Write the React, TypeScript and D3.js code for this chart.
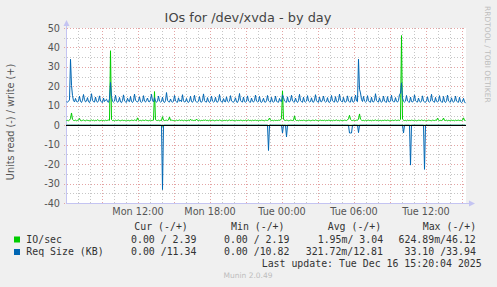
import React from 'react';
import * as d3 from 'd3';

const W = 497;
const H = 287;
const START = Date.UTC(2025, 11, 15, 6, 0, 0); // Mon 06:00
const END = Date.UTC(2025, 11, 16, 15, 20, 0); // Tue 15:20
const STEP_MS = 5 * 60 * 1000;

const title = 'IOs for /dev/xvda - by day';
const yLabel = 'Units read (-) / write (+)';
const yTicks = [-40, -30, -20, -10, 0, 10, 20, 30, 40, 50];
const yMinorTicks = [-35, -25, -15, -5, 5, 15, 25, 35, 45];

// IO/sec write (+), 5-minute samples
const ioWrite = [
  2.4, 2.5, 2.3, 2.6, 3.4, 6.3, 3.0, 2.5, 2.4, 2.6, 2.3, 2.5,
  2.6, 3.5, 2.4, 2.3, 2.5, 2.7, 2.4, 2.3, 2.6, 2.5, 2.4, 2.3,
  2.5, 2.7, 2.4, 2.6, 2.3, 2.5, 2.4, 2.8, 2.5, 2.3, 2.4, 2.6,
  2.4, 2.5, 2.3, 2.6, 2.4, 2.5, 2.7, 2.5, 38.3, 2.9, 2.4, 2.5,
  2.3, 2.6, 2.4, 2.5, 2.7, 2.4, 2.3, 2.5, 2.6, 2.4, 2.5, 2.3,
  2.6, 2.4, 2.5, 2.3, 2.4, 2.6, 2.5, 2.4, 2.7, 2.5, 2.3, 3.8,
  2.6, 2.4, 2.5, 2.3, 2.6, 2.5, 2.4, 2.7, 2.5, 2.4, 2.3, 2.5,
  2.6, 2.4, 2.5, 2.6, 17.3, 2.8, 2.5, 2.4, 2.6, 2.3, 2.5, 2.4,
  4.4, 2.6, 2.4, 2.5, 2.6, 2.4, 2.7, 4.2, 2.5, 2.6, 2.5, 2.4,
  2.5, 2.3, 2.6, 2.4, 2.5, 2.7, 2.4, 2.6, 2.5, 2.3, 2.6, 2.4,
  2.5, 2.4, 2.6, 2.3, 3.1, 2.5, 2.6, 2.4, 2.5, 2.4, 3.2, 2.5,
  2.4, 2.6, 2.3, 2.5, 2.4, 2.6, 2.5, 2.7, 2.4, 2.5, 2.3, 2.6,
  2.5, 2.4, 2.6, 2.5, 2.3, 2.4, 2.6, 2.5, 2.4, 2.7, 2.5, 2.3,
  2.6, 2.4, 2.5, 2.4, 2.6, 2.3, 2.5, 2.7, 2.4, 2.5, 2.6, 2.4,
  2.5, 2.3, 2.6, 2.4, 2.5, 2.4, 2.6, 2.5, 2.3, 2.5, 2.4, 2.6,
  2.4, 2.5, 2.7, 2.4, 2.5, 2.3, 2.6, 2.4, 2.5, 2.6, 2.4, 2.5,
  2.3, 2.5, 2.4, 2.6, 2.5, 2.4, 2.3, 2.6, 2.5, 2.4, 2.7, 3.7,
  2.6, 2.4, 2.5, 2.3, 2.6, 2.4, 2.5, 2.4, 2.6, 2.5, 2.7, 3.4,
  17.7, 3.2, 2.5, 2.4, 2.6, 2.5, 2.3, 2.4, 2.6, 2.5, 2.4, 2.5,
  4.8, 2.7, 2.4, 2.5, 2.3, 2.6, 2.4, 2.5, 2.4, 2.6, 2.5, 2.3,
  2.5, 2.4, 2.6, 2.5, 2.3, 2.4, 2.6, 2.5, 2.4, 2.7, 2.5, 2.4,
  2.3, 2.5, 2.6, 2.4, 2.5, 2.4, 2.6, 2.3, 2.5, 2.4, 2.6, 2.5,
  2.4, 2.5, 2.3, 2.6, 2.4, 2.5, 2.7, 2.4, 2.5, 2.3, 2.6, 2.4,
  2.5, 2.4, 2.6, 2.5, 2.4, 2.7, 3.4, 5.1, 3.0, 2.5, 2.4, 2.6,
  2.5, 2.4, 2.6, 2.5, 3.2, 5.8, 3.1, 2.6, 2.4, 2.5, 2.3, 2.6,
  2.4, 2.5, 2.6, 2.4, 2.5, 2.3, 2.6, 2.4, 2.5, 2.7, 2.4, 2.5,
  2.6, 2.4, 2.5, 2.3, 2.5, 2.4, 2.6, 2.5, 2.4, 2.6, 2.5, 2.3,
  2.5, 2.4, 2.6, 2.4, 2.5, 2.7, 2.4, 2.5, 2.6, 2.4, 3.0, 46.12,
  3.1, 2.6, 2.4, 2.5, 2.3, 2.6, 2.4, 2.5, 2.4, 2.6, 2.5, 2.4,
  2.6, 2.5, 2.3, 2.4, 2.6, 2.5, 2.4, 2.7, 2.5, 2.4, 2.6, 2.3,
  2.5, 2.4, 2.6, 2.5, 2.4, 2.3, 2.6, 2.5, 2.4, 2.6, 2.5, 3.6,
  2.6, 2.4, 2.5, 2.4, 2.6, 3.7, 2.5, 2.4, 2.6, 2.3, 2.5, 2.4,
  2.5, 2.6, 2.4, 2.5, 2.3, 2.6, 2.4, 2.5, 2.6, 2.4, 2.5, 2.4,
  2.6, 3.8, 2.5, 2.39,
];

// Req Size (KB) write (+), 5-minute samples
const reqWrite = [
  12.1, 11.8, 12.4, 13.0, 33.9, 20.5, 15.2, 12.6, 12.0, 13.8, 12.2, 11.9,
  12.5, 14.9, 12.3, 11.7, 12.8, 15.8, 13.1, 12.0, 12.4, 14.2, 12.1, 11.6,
  13.0, 16.2, 12.8, 12.1, 11.9, 14.5, 12.3, 11.8, 12.6, 15.1, 12.4, 12.0,
  11.7, 14.0, 12.2, 12.9, 13.4, 12.1, 11.8, 13.6, 22.0, 14.8, 12.3, 11.9,
  12.4, 15.4, 12.6, 11.8, 12.2, 14.3, 12.0, 11.6, 12.7, 15.6, 12.5, 12.0,
  11.8, 13.9, 12.4, 12.1, 14.8, 12.2, 11.7, 12.5, 16.0, 12.9, 12.2, 11.9,
  12.6, 14.6, 12.1, 11.8, 12.3, 15.2, 12.4, 11.9, 12.8, 14.0, 12.2, 12.0,
  13.1, 15.9, 12.6, 12.0, 14.2, 12.3, 11.8, 12.5, 15.0, 12.4, 11.9, 12.2,
  14.4, 12.1, 11.7, 12.6, 16.8, 12.8, 12.1, 11.9, 13.5, 12.2, 11.8, 12.4,
  15.3, 12.5, 12.0, 11.8, 14.1, 12.3, 12.9, 12.1, 15.7, 12.6, 11.9, 12.2,
  13.8, 12.0, 11.7, 12.5, 14.9, 12.2, 11.8, 12.7, 15.4, 12.4, 12.0, 11.9,
  12.3, 14.7, 12.1, 11.8, 12.6, 16.1, 12.7, 12.0, 11.9, 14.2, 12.3, 11.7,
  12.5, 15.0, 12.4, 11.9, 12.2, 14.4, 12.1, 11.8, 12.8, 15.8, 12.6, 12.0,
  11.8, 13.7, 12.2, 12.0, 14.6, 12.3, 11.9, 12.4, 15.2, 12.5, 12.1, 11.8,
  12.6, 14.1, 12.0, 11.7, 12.9, 16.3, 12.8, 12.1, 11.9, 14.5, 12.2, 11.8,
  12.4, 15.1, 12.5, 12.0, 11.8, 14.0, 12.3, 11.9, 12.7, 15.5, 12.4, 12.0,
  12.2, 14.8, 12.1, 11.7, 12.5, 13.9, 12.0, 11.8, 12.6, 15.3, 12.6, 12.1,
  11.9, 14.3, 12.2, 11.8, 12.4, 15.0, 12.3, 12.0, 11.8, 13.8, 12.4, 12.1,
  15.6, 14.2, 12.5, 12.0, 11.8, 14.6, 12.2, 11.9, 12.8, 15.4, 12.5, 12.0,
  11.9, 14.0, 12.3, 11.7, 12.6, 15.9, 12.7, 12.1, 11.8, 14.4, 12.2, 11.9,
  12.4, 15.2, 12.5, 12.0, 12.2, 14.1, 12.1, 11.8, 12.9, 15.7, 12.6, 12.0,
  11.8, 14.5, 12.3, 12.0, 13.0, 15.0, 12.4, 11.9, 12.2, 14.2, 12.0, 11.7,
  12.5, 15.3, 12.6, 12.1, 11.9, 14.7, 12.3, 11.8, 12.7, 16.0, 12.8, 12.2,
  12.0, 14.3, 12.1, 11.8, 12.5, 15.1, 12.4, 12.0, 11.9, 14.6, 12.2, 11.8,
  12.6, 15.5, 12.5, 12.1, 34.0, 18.5, 16.6, 13.2, 12.2, 14.8, 12.4, 11.9,
  12.3, 15.2, 12.6, 12.0, 11.8, 14.4, 12.2, 11.9, 12.8, 16.2, 12.7, 12.1,
  11.9, 14.1, 12.3, 11.8, 12.5, 15.0, 12.4, 12.0, 11.8, 14.7, 12.2, 11.9,
  12.6, 15.4, 12.5, 12.1, 12.0, 14.2, 12.3, 11.9, 12.7, 15.8, 16.5, 21.8,
  14.0, 12.3, 11.9, 12.4, 15.3, 12.5, 12.0, 11.8, 14.5, 12.2, 11.9, 12.6,
  15.6, 12.6, 12.1, 11.9, 14.0, 12.3, 11.8, 12.5, 15.1, 12.4, 12.0, 11.8,
  12.6, 14.6, 12.2, 11.9, 12.4, 15.9, 12.7, 12.1, 11.8, 14.3, 12.3, 11.9,
  12.5, 15.2, 12.4, 12.0, 11.8, 14.8, 12.2, 11.7, 12.6, 15.5, 12.5, 12.0,
  11.9, 14.1, 12.3, 11.8, 12.5, 15.0, 12.4, 12.0, 11.8, 14.4, 12.1, 11.6,
  12.3, 13.8, 12.0, 11.34,
];

// read (-) samples: [sample index, value]; all other samples are 0
const ioReadSamples: [number, number][] = [[96, 0.62], [202, 0.16]];
const reqReadSamples: [number, number][] = [
  [96, 33.1], [202, 13.0], [216, 4.0], [220, 6.0], [283, 4.0], [284, 4.0],
  [285, 4.0], [292, 3.8], [337, 4.0], [344, 20.5], [358, 22.7],
];

const seriesNames = ['IO/sec', 'Req Size (KB)'];
const seriesColors = ['#00CC00', '#0066B3'];
const colHeaders = ['Cur (-/+)', 'Min (-/+)', 'Avg (-/+)', 'Max (-/+)'];
const curVals = ['0.00 / 2.39', '0.00 /11.34'];
const minVals = ['0.00 / 2.19', '0.00 /10.82'];
const avgVals = ['1.95m/ 3.04', '321.72m/12.81'];
const maxVals = ['624.89m/46.12', '33.10 /33.94'];
const lastUpdate = 'Last update: Tue Dec 16 15:20:04 2025';
const footer = 'Munin 2.0.49';
const watermark = 'RRDTOOL / TOBI OETIKER';

const FONT = "'DejaVu Sans', sans-serif";
const MONO = "'DejaVu Sans Mono', monospace";
const MINOR = '#C6C6C6';
const MAJOR = '#E4A4A4';
const AXIS = '#C4C4F2';

function expand(samples: [number, number][], n: number): number[] {
  const arr = new Array(n).fill(0);
  samples.forEach(([i, v]) => { arr[i] = v; });
  return arr;
}

export default function App() {
  const L = 66, R = 466, T = 28, B = 203;
  const x = d3.scaleTime().domain([new Date(START), new Date(END)]).range([L, R]);
  const y = d3.scaleLinear().domain([-40, 50]).range([B, T]);
  const tAt = (i: number) => new Date(START + i * STEP_MS);

  const mkLine = (sign: number) =>
    d3.line<number>()
      .x((_, i) => x(tAt(i)) + 0.5)
      .y((d) => y(sign * d));

  const n = reqWrite.length;
  const ioRead = expand(ioReadSamples, n);
  const reqRead = expand(reqReadSamples, n);

  const hours = d3.utcHour.range(new Date(START), new Date(END + 1));
  const majorHours = hours.filter((h) => h.getUTCHours() % 3 === 0);
  const minorHours = hours.filter((h) => h.getUTCHours() % 3 !== 0);
  const labelHours = hours.filter((h) => h.getUTCHours() % 6 === 0 && +h > START);
  const fmt = d3.utcFormat('%a %H:%M');
  const px = (v: number) => Math.round(v) + 0.5;

  const legendCols = [
    { head: colHeaders[0], hx: 134.3, vals: curVals, vx: [131, 131] },
    { head: colHeaders[1], hx: 231, vals: minVals, vx: [224, 224] },
    { head: colHeaders[2], hx: 327.7, vals: avgVals, vx: [317.7, 305.7] },
    { head: colHeaders[3], hx: 422.7, vals: maxVals, vx: [398.5, 404.5] },
  ];
  const rowY = [242.5, 255];

  return (
    <svg width={W} height={H} style={{ position: 'fixed', left: 0, top: 0, display: 'block' }}>
      <rect x={0} y={0} width={W} height={H} fill="#F0F0F0" />
      <rect x={L} y={T} width={R - L} height={B - T} fill="#FFFFFF" />

      {/* minor grid */}
      <g shapeRendering="crispEdges">
        {yMinorTicks.map((v) => (
          <line key={'ym' + v} x1={L - 2} x2={R} y1={px(y(v))} y2={px(y(v))} stroke={MINOR} strokeDasharray="1,2" />
        ))}
        {minorHours.map((h) => (
          <line key={'xm' + +h} x1={px(x(h))} x2={px(x(h))} y1={T} y2={B + 2} stroke={MINOR} strokeDasharray="1,2" />
        ))}
        {yTicks.map((v) => (
          <line key={'yM' + v} x1={L - 2} x2={R} y1={px(y(v))} y2={px(y(v))} stroke={MAJOR} strokeDasharray="1,2" />
        ))}
        {majorHours.map((h) => (
          <line key={'xM' + +h} x1={px(x(h))} x2={px(x(h))} y1={T} y2={B + 2} stroke={MAJOR} strokeDasharray="1,2" />
        ))}
      </g>

      {/* axes */}
      <g shapeRendering="crispEdges">
        <line x1={L + 0.5} x2={L + 0.5} y1={22} y2={B + 1} stroke={AXIS} />
        <line x1={L} x2={R + 6} y1={B + 0.5} y2={B + 0.5} stroke={AXIS} />
      </g>
      <path d={`M${L - 2.5},${26} L${L + 0.5},${20} L${L + 3.5},${26} Z`} fill={AXIS} />
      <path d={`M${R + 3},${B - 2.5} L${R + 9},${B + 0.5} L${R + 3},${B + 3.5} Z`} fill={AXIS} />

      {/* data */}
      <g fill="none" strokeWidth={1} strokeLinejoin="round">
        <path d={mkLine(-1)(ioRead) || ''} stroke={seriesColors[0]} />
        <path d={mkLine(1)(ioWrite) || ''} stroke={seriesColors[0]} />
        <path d={mkLine(-1)(reqRead) || ''} stroke={seriesColors[1]} />
        <path d={mkLine(1)(reqWrite) || ''} stroke={seriesColors[1]} />
      </g>

      {/* zero line */}
      <line x1={L} x2={R} y1={px(y(0))} y2={px(y(0))} stroke="#000" shapeRendering="crispEdges" />

      {/* y tick labels */}
      <g fontFamily={FONT} fontSize={9.7} fill="#555" textAnchor="end">
        {yTicks.map((v) => (
          <text key={'yl' + v} x={60} y={y(v) + 3.5}>{v}</text>
        ))}
      </g>
      {/* x tick labels */}
      <g fontFamily={FONT} fontSize={9.7} fill="#555" textAnchor="middle">
        {labelHours.map((h) => (
          <text key={'xl' + +h} x={x(h)} y={215}>{fmt(h)}</text>
        ))}
      </g>

      {/* title */}
      <text x={248} y={22} textAnchor="middle" fontFamily={FONT} fontSize={12.9} fill="#444">{title}</text>
      {/* y label */}
      <text transform="translate(14,122) rotate(-90)" textAnchor="middle" fontFamily={FONT} fontSize={9.7} fill="#555">{yLabel}</text>
      {/* watermark */}
      <text transform="translate(485,6) rotate(90)" textAnchor="start" fontFamily={FONT} fontSize={7.5} fill="#BDBDBD">{watermark}</text>

      {/* legend */}
      <g fontFamily={MONO} fontSize={9.9} fill="#333" style={{ whiteSpace: 'pre' }}>
        {legendCols.map((c) => (
          <text key={c.head} x={c.hx} y={230} xmlSpace="preserve">{c.head}</text>
        ))}
        {seriesNames.map((s, r) => (
          <g key={s}>
            <rect x={14} y={rowY[r] - 6} width={6} height={6} fill={seriesColors[r]} />
            <text x={26.3} y={rowY[r]}>{s}</text>
            {legendCols.map((c) => (
              <text key={c.head + r} x={c.vx[r]} y={rowY[r]} xmlSpace="preserve">{c.vals[r]}</text>
            ))}
          </g>
        ))}
        <text x={261.7} y={267}>{lastUpdate}</text>
      </g>
      <text x={248} y={278} textAnchor="middle" fontFamily={FONT} fontSize={7.5} fill="#BDBDBD">{footer}</text>
    </svg>
  );
}
